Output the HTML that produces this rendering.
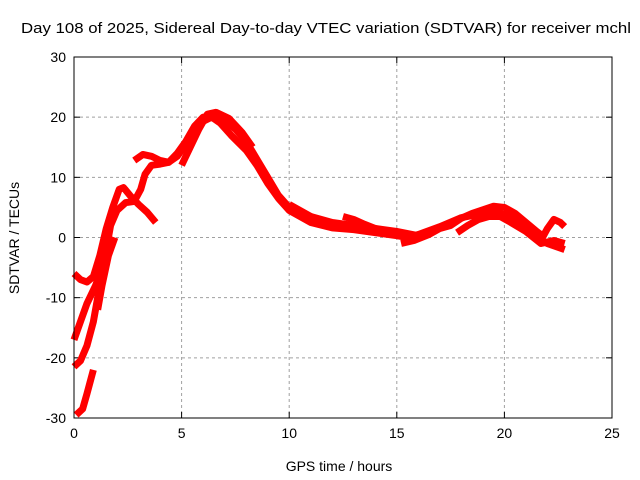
<!DOCTYPE html>
<html><head><meta charset="utf-8"><style>
body{margin:0;background:#fff;}
svg{display:block;font-family:"Liberation Sans",sans-serif;}
</style></head><body>
<svg id="chart" width="640" height="480">
<text x="326" y="33" font-size="15" text-anchor="middle" textLength="610" lengthAdjust="spacingAndGlyphs">Day 108 of 2025, Sidereal Day-to-day VTEC variation (SDTVAR) for receiver mchl</text>
<text x="339" y="471" font-size="14" text-anchor="middle">GPS time / hours</text>
<text transform="translate(19,238) rotate(-90)" font-size="14" text-anchor="middle">SDTVAR / TECUs</text>
<g id="grid"></g><g id="ticks"></g><g id="series"></g>
<rect x="74" y="57" width="538" height="361" fill="none" stroke="#000" stroke-width="1"/>
</svg>
<script>
const xTicks=[0,5,10,15,20,25];
const yTicks=[-30,-20,-10,0,10,20,30];
const trackA=[[0,-6],[0.3,-7],[0.6,-7.4],[0.9,-6.5],[1.2,-3],[1.5,1.5],[1.8,5],[2.1,8],[2.3,8.3],[2.6,7],[3.0,5.5],[3.4,4.2],[3.8,2.5]];
const trackB=[[0,-21.5],[0.3,-20.5],[0.6,-18],[0.9,-14],[1.2,-8],[1.5,-2],[1.7,2],[2.0,4.5],[2.4,5.8],[2.8,6],[3.1,8],[3.3,10.5],[3.6,12],[4.0,12.2],[4.4,12.5],[4.8,13.5],[5.2,15.5],[5.6,17.5],[6.0,19.3],[6.4,20],[6.8,19],[7.3,17],[8.0,14.5],[8.5,12],[9.0,9],[9.5,6.5],[10,4.5],[10.5,3.5],[11,2.5],[12,1.6],[13,1.3],[14,0.8],[15,0.3],[15.5,0],[16,0.5],[17,1.8],[18,3.3],[19,4],[19.5,4.3],[20,3.8],[20.5,2.8],[21,1.5],[21.5,0],[22,-1],[22.8,-2]];
const trackC=[[0,-17],[0.3,-14],[0.6,-11],[1.0,-8],[1.3,-5],[1.5,-3]];
const trackD=[[0.1,-29.5],[0.4,-28.5],[0.6,-26],[0.9,-22]];
const trackE=[[2.8,12.8],[3.2,13.8],[3.6,13.5],[4.0,12.8],[4.4,12.5],[4.8,14],[5.2,16],[5.6,18.5],[6.0,20],[6.5,20.3],[7.0,19.5],[7.5,18],[8.0,16],[8.5,13],[9.0,10],[9.5,7],[10,5],[10.5,4],[11,3.5],[11.5,2.5]];
const trackF=[[5.0,12],[5.4,15],[5.8,18],[6.2,20.5],[6.6,20.8],[7.2,19.8],[7.8,17.5],[8.3,15]];
const trackG=[[12.5,3.5],[13,3],[13.5,2.2],[14,1.5],[14.5,1],[15,0.5]];
const trackH=[[15.2,-1],[15.8,-0.5],[16.5,0.5],[17,1.5],[17.5,2],[18,3.2],[18.5,4],[19,4.6],[19.5,5.2],[20,5],[20.5,4],[21,2.5],[21.5,1],[21.8,0.2],[22,1.5],[22.3,3],[22.6,2.5],[22.8,1.8]];
const trackI=[[17.8,0.8],[18.3,2],[18.8,3],[19.3,3.5],[19.8,3.5],[20.3,2.5],[21,1],[21.7,-1],[22.3,-0.5],[22.8,-1]];
const trackJ=[[10,5.5],[11,3.5],[12,2.5],[13,2],[14,1.5],[15,1],[16,0.3],[16.8,1.2]];
const trackK=[[1.1,-12],[1.3,-8],[1.6,-3],[1.9,0]];
const tracks=[trackA,trackB,trackC,trackD,trackE,trackF,trackG,trackH,trackI,trackJ,trackK];
const L=74,R=612,T=57,B=418;
const sx=v=>L+(v-0)/25*(R-L);
const sy=v=>B-(v+30)/60*(B-T);
const NS="http://www.w3.org/2000/svg";
const grid=document.getElementById('grid'),ticks=document.getElementById('ticks'),ser=document.getElementById('series');
function mk(tag,attrs,parent){const e=document.createElementNS(NS,tag);for(const k in attrs)e.setAttribute(k,attrs[k]);parent.appendChild(e);return e;}
xTicks.forEach(t=>{const x=sx(t);
 if(t>0&&t<25){const g=mk('line',{x1:x,x2:x,y1:T,y2:B,stroke:'#a0a0a0','stroke-dasharray':'3,3'},grid);
 
 }
 mk('line',{x1:x,x2:x,y1:B,y2:B-6,stroke:'#000'},ticks);mk('line',{x1:x,x2:x,y1:T,y2:T+6,stroke:'#000'},ticks);
 const tx=mk('text',{x:x,y:B+20,'font-size':14,'text-anchor':'middle'},ticks);tx.textContent=t;
 
 });
yTicks.forEach(t=>{const y=sy(t);
 if(t>-30&&t<30){const g=mk('line',{x1:L,x2:R,y1:y,y2:y,stroke:'#a0a0a0','stroke-dasharray':'3,3'},grid);
 
 }
 mk('line',{x1:L,x2:L+6,y1:y,y2:y,stroke:'#000'},ticks);mk('line',{x1:R,x2:R-6,y1:y,y2:y,stroke:'#000'},ticks);
 const tx=mk('text',{x:L-8,y:y+5,'font-size':14,'text-anchor':'end'},ticks);tx.textContent=t;
 
 });
tracks.forEach((tr,i)=>{const p=mk('polyline',{points:tr.map(d=>sx(d[0])+','+sy(d[1])).join(' '),fill:'none',stroke:'#ff0000','stroke-width':7,'stroke-linejoin':'round','stroke-linecap':'butt'},ser);
 
 });
</script>
</body></html>
